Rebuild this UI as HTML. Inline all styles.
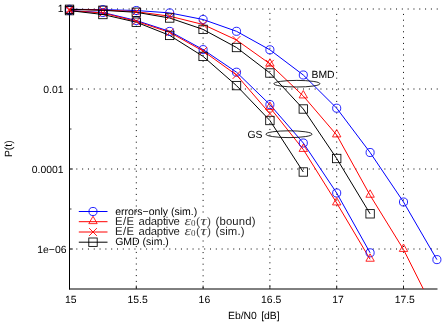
<!DOCTYPE html>
<html><head><meta charset="utf-8"><style>html,body{margin:0;padding:0;background:#fff}svg{display:block}svg{will-change:transform}text{font-family:"Liberation Sans",sans-serif;font-size:10.4px;fill:#000;text-rendering:geometricPrecision}</style></head><body>
<svg width="444" height="324" viewBox="0 0 444 324">
<rect width="444" height="324" fill="#fff"/>
<defs><clipPath id="c"><rect x="60" y="0" width="384" height="289"/></clipPath></defs>
<g stroke="#000" stroke-width="1" fill="none"><g stroke-dasharray="1 4.813"><line x1="70.5" y1="9" x2="438" y2="9"/><line x1="70.5" y1="89" x2="438" y2="89"/><line x1="70.5" y1="169" x2="438" y2="169"/><line x1="70.5" y1="249" x2="438" y2="249"/></g><g stroke-dasharray="1 4.8"><line x1="136.30" y1="287.70" x2="136.30" y2="10" /><line x1="203.10" y1="287.90" x2="203.10" y2="10" /><line x1="269.90" y1="286.50" x2="269.90" y2="10" /><line x1="336.70" y1="287.50" x2="336.70" y2="10" /><line x1="403.50" y1="287.50" x2="403.50" y2="10" /></g></g>
<line x1="69.5" y1="9" x2="69.5" y2="289.5" stroke="#000" stroke-width="1"/>
<line x1="69" y1="289" x2="437.5" y2="289" stroke="#000" stroke-width="1"/>
<g stroke="#000" stroke-width="0.75"><line x1="70" y1="9" x2="73" y2="9"/><line x1="70" y1="89" x2="73" y2="89"/><line x1="70" y1="169" x2="73" y2="169"/><line x1="70" y1="249" x2="73" y2="249"/><line x1="70" y1="49" x2="71.5" y2="49"/><line x1="70" y1="129" x2="71.5" y2="129"/><line x1="70" y1="209" x2="71.5" y2="209"/><line x1="136.30" y1="289" x2="136.30" y2="285.5"/><line x1="203.10" y1="289" x2="203.10" y2="285.5"/><line x1="269.90" y1="289" x2="269.90" y2="285.5"/><line x1="336.70" y1="289" x2="336.70" y2="285.5"/><line x1="403.50" y1="289" x2="403.50" y2="285.5"/></g>
<g clip-path="url(#c)">
<polyline fill="none" stroke="#0000ff" stroke-width="1" points="69.50,9.30 102.90,9.60 136.30,10.50 169.70,12.90 203.10,19.50 236.50,31.30 269.90,49.80 303.30,75.00 336.70,108.20 370.10,152.50 403.50,202.00 436.90,259.60"/>
<polyline fill="none" stroke="#0000ff" stroke-width="1" points="69.50,10.60 102.90,12.50 136.30,20.50 169.70,31.40 203.10,49.60 236.50,72.20 269.90,104.60 303.30,143.00 336.70,193.00 370.10,252.80"/>
<polyline fill="none" stroke="#ff0000" stroke-width="1" points="269.90,64.20 303.30,96.00 336.70,135.00 370.10,195.30 403.50,249.50 436.90,316.00"/>
<polyline fill="none" stroke="#ff0000" stroke-width="1" points="269.90,107.50 303.30,149.50 336.70,203.00 370.10,259.30"/>
<polyline fill="none" stroke="#ff0000" stroke-width="1" points="69.50,9.30 102.90,10.00 136.30,11.70 169.70,16.20 203.10,24.50 236.50,40.00 269.90,63.80"/>
<polyline fill="none" stroke="#ff0000" stroke-width="1" points="69.50,10.60 102.90,13.00 136.30,21.30 169.70,32.40 203.10,51.00 236.50,75.00 269.90,113.60"/>
<polyline fill="none" stroke="#000000" stroke-width="1" points="69.50,9.30 102.90,10.30 136.30,12.30 169.70,18.00 203.10,29.40 236.50,47.50 269.90,73.00 303.30,109.00 336.70,158.50 370.10,213.80"/>
<polyline fill="none" stroke="#000000" stroke-width="1" points="69.50,10.60 102.90,14.50 136.30,22.20 169.70,35.40 203.10,56.40 236.50,85.60 269.90,120.50 303.30,172.00"/>
<circle cx="69.50" cy="9.30" r="4.05" fill="none" stroke="#0000ff" stroke-width="0.85"/>
<circle cx="102.90" cy="9.60" r="4.05" fill="none" stroke="#0000ff" stroke-width="0.85"/>
<circle cx="136.30" cy="10.50" r="4.05" fill="none" stroke="#0000ff" stroke-width="0.85"/>
<circle cx="169.70" cy="12.90" r="4.05" fill="none" stroke="#0000ff" stroke-width="0.85"/>
<circle cx="203.10" cy="19.50" r="4.05" fill="none" stroke="#0000ff" stroke-width="0.85"/>
<circle cx="236.50" cy="31.30" r="4.05" fill="none" stroke="#0000ff" stroke-width="0.85"/>
<circle cx="269.90" cy="49.80" r="4.05" fill="none" stroke="#0000ff" stroke-width="0.85"/>
<circle cx="303.30" cy="75.00" r="4.05" fill="none" stroke="#0000ff" stroke-width="0.85"/>
<circle cx="336.70" cy="108.20" r="4.05" fill="none" stroke="#0000ff" stroke-width="0.85"/>
<circle cx="370.10" cy="152.50" r="4.05" fill="none" stroke="#0000ff" stroke-width="0.85"/>
<circle cx="403.50" cy="202.00" r="4.05" fill="none" stroke="#0000ff" stroke-width="0.85"/>
<circle cx="436.90" cy="259.60" r="4.05" fill="none" stroke="#0000ff" stroke-width="0.85"/>
<circle cx="69.50" cy="10.60" r="4.05" fill="none" stroke="#0000ff" stroke-width="0.85"/>
<circle cx="102.90" cy="12.50" r="4.05" fill="none" stroke="#0000ff" stroke-width="0.85"/>
<circle cx="136.30" cy="20.50" r="4.05" fill="none" stroke="#0000ff" stroke-width="0.85"/>
<circle cx="169.70" cy="31.40" r="4.05" fill="none" stroke="#0000ff" stroke-width="0.85"/>
<circle cx="203.10" cy="49.60" r="4.05" fill="none" stroke="#0000ff" stroke-width="0.85"/>
<circle cx="236.50" cy="72.20" r="4.05" fill="none" stroke="#0000ff" stroke-width="0.85"/>
<circle cx="269.90" cy="104.60" r="4.05" fill="none" stroke="#0000ff" stroke-width="0.85"/>
<circle cx="303.30" cy="143.00" r="4.05" fill="none" stroke="#0000ff" stroke-width="0.85"/>
<circle cx="336.70" cy="193.00" r="4.05" fill="none" stroke="#0000ff" stroke-width="0.85"/>
<circle cx="370.10" cy="252.80" r="4.05" fill="none" stroke="#0000ff" stroke-width="0.85"/>
<path d="M269.90 58.74 L265.70 66.13 L274.10 66.13 Z" fill="none" stroke="#ff0000" stroke-width="0.85"/>
<path d="M303.30 90.54 L299.10 97.93 L307.50 97.93 Z" fill="none" stroke="#ff0000" stroke-width="0.85"/>
<path d="M336.70 129.54 L332.50 136.93 L340.90 136.93 Z" fill="none" stroke="#ff0000" stroke-width="0.85"/>
<path d="M370.10 189.84 L365.90 197.23 L374.30 197.23 Z" fill="none" stroke="#ff0000" stroke-width="0.85"/>
<path d="M403.50 244.04 L399.30 251.43 L407.70 251.43 Z" fill="none" stroke="#ff0000" stroke-width="0.85"/>
<path d="M436.90 310.54 L432.70 317.93 L441.10 317.93 Z" fill="none" stroke="#ff0000" stroke-width="0.85"/>
<path d="M269.90 102.04 L265.70 109.43 L274.10 109.43 Z" fill="none" stroke="#ff0000" stroke-width="0.85"/>
<path d="M303.30 144.04 L299.10 151.43 L307.50 151.43 Z" fill="none" stroke="#ff0000" stroke-width="0.85"/>
<path d="M336.70 197.54 L332.50 204.93 L340.90 204.93 Z" fill="none" stroke="#ff0000" stroke-width="0.85"/>
<path d="M370.10 253.84 L365.90 261.23 L374.30 261.23 Z" fill="none" stroke="#ff0000" stroke-width="0.85"/>
<path d="M65.60 5.40 L73.40 13.20 M65.60 13.20 L73.40 5.40" fill="none" stroke="#ff0000" stroke-width="0.9"/>
<path d="M99.00 6.10 L106.80 13.90 M99.00 13.90 L106.80 6.10" fill="none" stroke="#ff0000" stroke-width="0.9"/>
<path d="M132.40 7.80 L140.20 15.60 M132.40 15.60 L140.20 7.80" fill="none" stroke="#ff0000" stroke-width="0.9"/>
<path d="M165.80 12.30 L173.60 20.10 M165.80 20.10 L173.60 12.30" fill="none" stroke="#ff0000" stroke-width="0.9"/>
<path d="M199.20 20.60 L207.00 28.40 M199.20 28.40 L207.00 20.60" fill="none" stroke="#ff0000" stroke-width="0.9"/>
<path d="M232.60 36.10 L240.40 43.90 M232.60 43.90 L240.40 36.10" fill="none" stroke="#ff0000" stroke-width="0.9"/>
<path d="M266.00 59.90 L273.80 67.70 M266.00 67.70 L273.80 59.90" fill="none" stroke="#ff0000" stroke-width="0.9"/>
<path d="M65.60 6.70 L73.40 14.50 M65.60 14.50 L73.40 6.70" fill="none" stroke="#ff0000" stroke-width="0.9"/>
<path d="M99.00 9.10 L106.80 16.90 M99.00 16.90 L106.80 9.10" fill="none" stroke="#ff0000" stroke-width="0.9"/>
<path d="M132.40 17.40 L140.20 25.20 M132.40 25.20 L140.20 17.40" fill="none" stroke="#ff0000" stroke-width="0.9"/>
<path d="M165.80 28.50 L173.60 36.30 M165.80 36.30 L173.60 28.50" fill="none" stroke="#ff0000" stroke-width="0.9"/>
<path d="M199.20 47.10 L207.00 54.90 M199.20 54.90 L207.00 47.10" fill="none" stroke="#ff0000" stroke-width="0.9"/>
<path d="M232.60 71.10 L240.40 78.90 M232.60 78.90 L240.40 71.10" fill="none" stroke="#ff0000" stroke-width="0.9"/>
<path d="M266.00 109.70 L273.80 117.50 M266.00 117.50 L273.80 109.70" fill="none" stroke="#ff0000" stroke-width="0.9"/>
<rect x="65.30" y="5.10" width="8.40" height="8.40" fill="none" stroke="#000000" stroke-width="0.85"/>
<rect x="98.70" y="6.10" width="8.40" height="8.40" fill="none" stroke="#000000" stroke-width="0.85"/>
<rect x="132.10" y="8.10" width="8.40" height="8.40" fill="none" stroke="#000000" stroke-width="0.85"/>
<rect x="165.50" y="13.80" width="8.40" height="8.40" fill="none" stroke="#000000" stroke-width="0.85"/>
<rect x="198.90" y="25.20" width="8.40" height="8.40" fill="none" stroke="#000000" stroke-width="0.85"/>
<rect x="232.30" y="43.30" width="8.40" height="8.40" fill="none" stroke="#000000" stroke-width="0.85"/>
<rect x="265.70" y="68.80" width="8.40" height="8.40" fill="none" stroke="#000000" stroke-width="0.85"/>
<rect x="299.10" y="104.80" width="8.40" height="8.40" fill="none" stroke="#000000" stroke-width="0.85"/>
<rect x="332.50" y="154.30" width="8.40" height="8.40" fill="none" stroke="#000000" stroke-width="0.85"/>
<rect x="365.90" y="209.60" width="8.40" height="8.40" fill="none" stroke="#000000" stroke-width="0.85"/>
<rect x="65.30" y="6.40" width="8.40" height="8.40" fill="none" stroke="#000000" stroke-width="0.85"/>
<rect x="98.70" y="10.30" width="8.40" height="8.40" fill="none" stroke="#000000" stroke-width="0.85"/>
<rect x="132.10" y="18.00" width="8.40" height="8.40" fill="none" stroke="#000000" stroke-width="0.85"/>
<rect x="165.50" y="31.20" width="8.40" height="8.40" fill="none" stroke="#000000" stroke-width="0.85"/>
<rect x="198.90" y="52.20" width="8.40" height="8.40" fill="none" stroke="#000000" stroke-width="0.85"/>
<rect x="232.30" y="81.40" width="8.40" height="8.40" fill="none" stroke="#000000" stroke-width="0.85"/>
<rect x="265.70" y="116.30" width="8.40" height="8.40" fill="none" stroke="#000000" stroke-width="0.85"/>
<rect x="299.10" y="167.80" width="8.40" height="8.40" fill="none" stroke="#000000" stroke-width="0.85"/>
</g>
<ellipse cx="296.9" cy="83.7" rx="23" ry="3.3" fill="none" stroke="#000" stroke-width="0.85"/>
<ellipse cx="289" cy="134.2" rx="23" ry="3.4" fill="none" stroke="#000" stroke-width="0.85"/>
<text x="311.5" y="78">BMD</text>
<text x="247.5" y="137.5">GS</text>
<line x1="78.8" y1="211.50" x2="107.5" y2="211.50" stroke="#0000ff" stroke-width="1"/>
<line x1="78.8" y1="221.70" x2="107.5" y2="221.70" stroke="#ff0000" stroke-width="1"/>
<line x1="78.8" y1="232.00" x2="107.5" y2="232.00" stroke="#ff0000" stroke-width="1"/>
<line x1="78.8" y1="242.20" x2="107.5" y2="242.20" stroke="#000000" stroke-width="1"/>
<circle cx="93.00" cy="211.50" r="4.05" fill="none" stroke="#0000ff" stroke-width="0.85"/>
<path d="M93.00 216.24 L88.80 223.63 L97.20 223.63 Z" fill="none" stroke="#ff0000" stroke-width="0.85"/>
<path d="M89.10 228.10 L96.90 235.90 M89.10 235.90 L96.90 228.10" fill="none" stroke="#ff0000" stroke-width="0.9"/>
<rect x="88.80" y="238.00" width="8.40" height="8.40" fill="none" stroke="#000000" stroke-width="0.85"/>
<rect x="114" y="216.3" width="141.6" height="10.6" fill="#fff"/>
<rect x="114" y="226.2" width="130.6" height="10.8" fill="#fff"/>
<text x="115.2" y="214.6" style="font-size:10.5px">errors−only (sim.)</text>
<text x="115.1" y="224.7" style="font-size:11.3px;fill:#222" textLength="19" lengthAdjust="spacing">E/E</text>
<text x="138.6" y="224.7" style="font-size:11.3px;fill:#222" textLength="41.3" lengthAdjust="spacing">adaptive</text>
<text x="184.4" y="224.7" style="font-family:'Liberation Serif',serif;fill:#444;font-style:italic;font-size:13px" textLength="6.3" lengthAdjust="spacingAndGlyphs">ε</text>
<text x="191.1" y="226.0" style="font-family:'Liberation Serif',serif;fill:#444;font-size:9px">0</text>
<text x="196.3" y="224.7" style="font-family:'Liberation Serif',serif;fill:#444;font-size:12px">(</text>
<text x="200.2" y="224.7" style="font-family:'Liberation Serif',serif;fill:#444;font-style:italic;font-size:13px" textLength="6.5" lengthAdjust="spacingAndGlyphs">τ</text>
<text x="206.8" y="224.7" style="font-family:'Liberation Serif',serif;fill:#444;font-size:12px">)</text>
<text x="215.6" y="224.7" style="font-size:11.3px;fill:#222" textLength="39.8" lengthAdjust="spacing">(bound)</text>
<text x="115.1" y="234.6" style="font-size:11.3px;fill:#222" textLength="19" lengthAdjust="spacing">E/E</text>
<text x="138.6" y="234.6" style="font-size:11.3px;fill:#222" textLength="41.3" lengthAdjust="spacing">adaptive</text>
<text x="184.4" y="234.6" style="font-family:'Liberation Serif',serif;fill:#444;font-style:italic;font-size:13px" textLength="6.3" lengthAdjust="spacingAndGlyphs">ε</text>
<text x="191.1" y="235.9" style="font-family:'Liberation Serif',serif;fill:#444;font-size:9px">0</text>
<text x="196.3" y="234.6" style="font-family:'Liberation Serif',serif;fill:#444;font-size:12px">(</text>
<text x="200.2" y="234.6" style="font-family:'Liberation Serif',serif;fill:#444;font-style:italic;font-size:13px" textLength="6.5" lengthAdjust="spacingAndGlyphs">τ</text>
<text x="206.8" y="234.6" style="font-family:'Liberation Serif',serif;fill:#444;font-size:12px">)</text>
<text x="215.6" y="234.6" style="font-size:11.3px;fill:#222" textLength="28.8" lengthAdjust="spacing">(sim.)</text>
<text x="115.2" y="245.4" style="font-size:10.5px">GMD (sim.)</text>
<text x="63.5" y="12.3" text-anchor="end">1</text>
<text x="63.5" y="92.6" text-anchor="end">0.01</text>
<text x="63.5" y="172.8" text-anchor="end">0.0001</text>
<text x="66.5" y="252.6" text-anchor="end">1e−06</text>
<text x="70.80" y="303.3" text-anchor="middle">15</text>
<text x="137.60" y="303.3" text-anchor="middle">15.5</text>
<text x="204.40" y="303.3" text-anchor="middle">16</text>
<text x="271.20" y="303.3" text-anchor="middle">16.5</text>
<text x="338.00" y="303.3" text-anchor="middle">17</text>
<text x="404.80" y="303.3" text-anchor="middle">17.5</text>
<text x="253.8" y="318.8" text-anchor="middle" style="word-spacing:1.4px">Eb/N0 [dB]</text>
<text transform="translate(11.5 148.7) rotate(-90)" text-anchor="middle">P(t)</text>
</svg></body></html>
